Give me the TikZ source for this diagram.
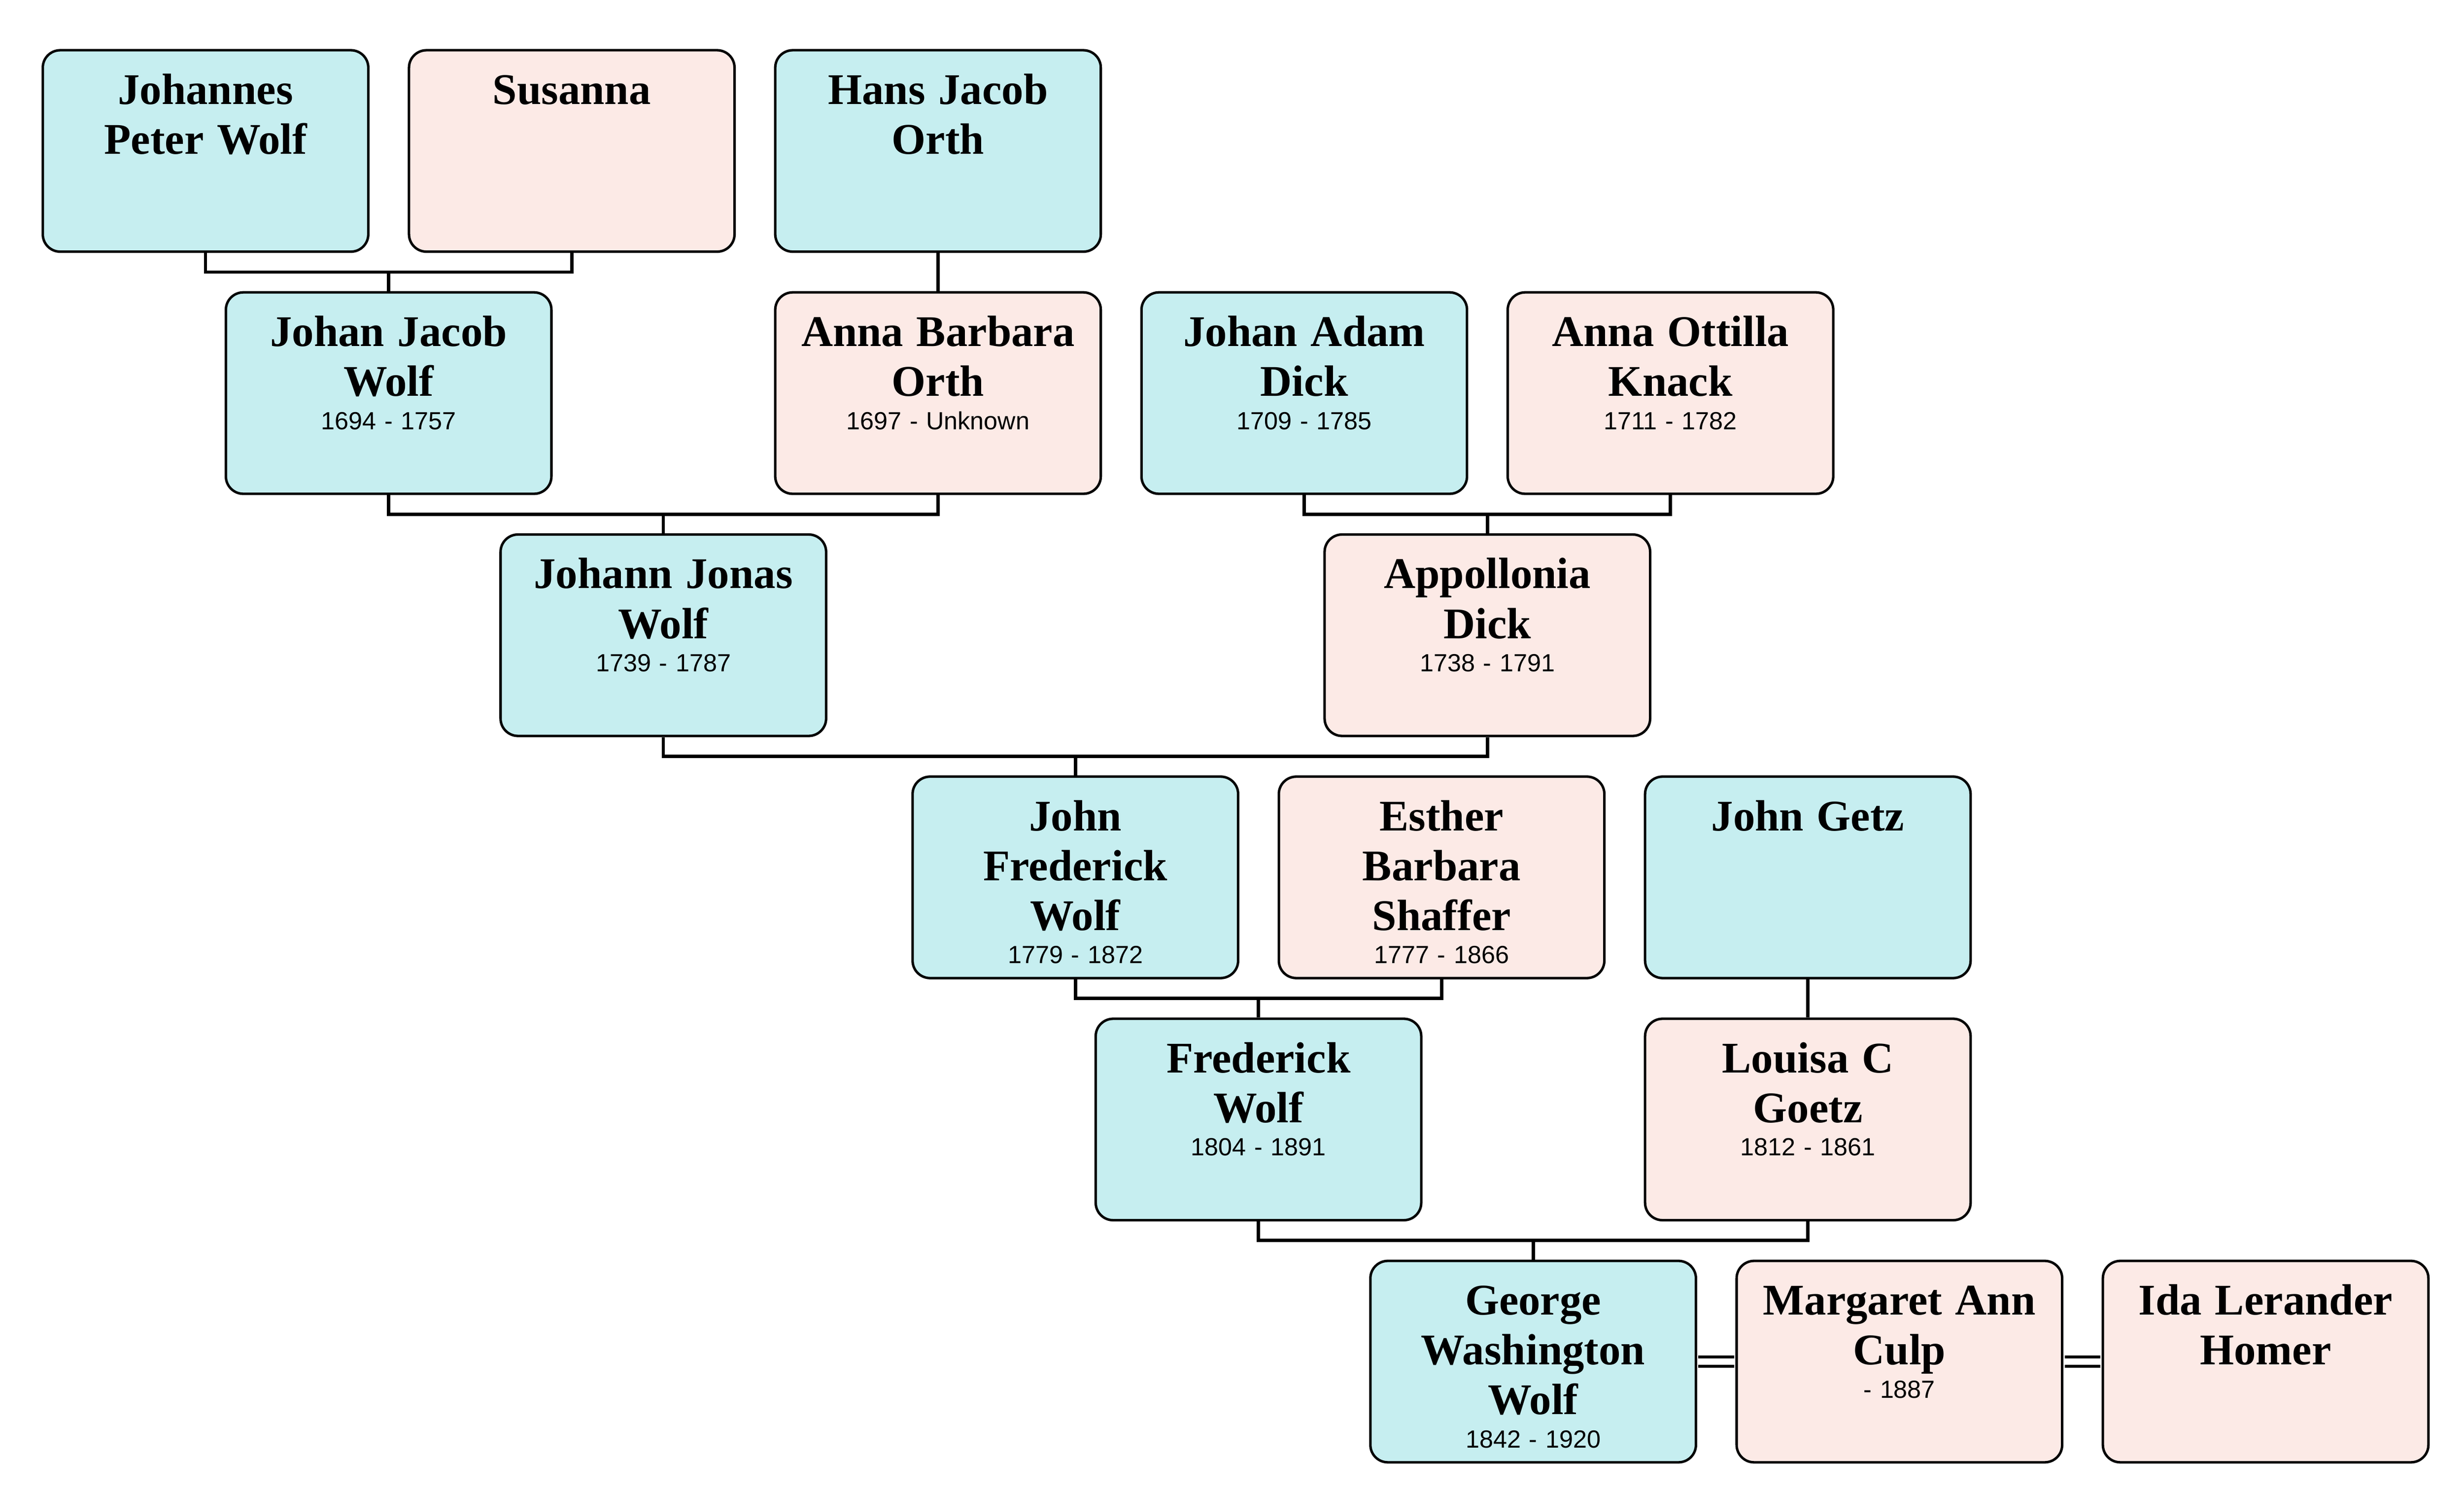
\documentclass[tikz,border=0pt]{standalone}
\usepackage{fontspec}
\setmainfont{Liberation Serif}
\setsansfont{Liberation Sans}
\definecolor{manfill}{HTML}{C6EEF0}
\definecolor{womanfill}{HTML}{FCEAE6}
\newcommand{\pname}[1]{{\fontsize{30}{34.14}\selectfont\bfseries\spaceskip=0.3em\relax #1\par}}
\newcommand{\pdate}[1]{{\fontsize{17}{22.76}\selectfont\sffamily\spaceskip=0.33em\relax #1\par}}
\tikzset{
  person/.style={draw, line width=0.06cm, rounded corners=0.42cm, minimum width=7.84cm, minimum height=4.85cm, inner sep=0},
  man/.style={person, fill=manfill},
  woman/.style={person, fill=womanfill},
  ptext/.style={anchor=base, yshift=-1.33cm, text width=7.9cm, align=center, inner sep=0},
  link/.style={line width=0.08cm},
  wed/.style={line width=0.07cm, double, double distance=0.16cm, shorten <=0.03cm, shorten >=0.03cm},
}
\begin{document}
\begin{tikzpicture}[x=8.82cm,y=-5.83cm]
\useasboundingbox (-4.95cm,3.635cm) rectangle (54.39cm,-32.255cm);
%boxes
\node[man] (jpw) at (0,0){};
\node[woman] (sus) at (1,0){};
\node[man] (hjo) at (2,0){};
\node[man] (jjw) at (0.5,1){};
\node[woman] (abo) at (2,1){};
\node[man] (jad) at (3,1){};
\node[woman] (aok) at (4,1){};
\node[man] (jjo) at (1.25,2){};
\node[woman] (apd) at (3.5,2){};
\node[man] (jfw) at (2.375,3){};
\node[woman] (ebs) at (3.375,3){};
\node[man] (jge) at (4.375,3){};
\node[man] (frw) at (2.875,4){};
\node[woman] (lcg) at (4.375,4){};
\node[man] (gww) at (3.625,5){};
\node[woman] (mac) at (4.625,5){};
\node[woman] (ilh) at (5.625,5){};
%names
\node[ptext] (jpw-t) at (jpw.north){\pname{Johannes\\Peter Wolf}};
\node[ptext] (sus-t) at (sus.north){\pname{Susanna}};
\node[ptext] (hjo-t) at (hjo.north){\pname{Hans Jacob\\Orth}};
\node[ptext] (jjw-t) at (jjw.north){\pname{Johan Jacob\\Wolf}\pdate{1694 - 1757}};
\node[ptext] (abo-t) at (abo.north){\pname{Anna Barbara\\Orth}\pdate{1697 - Unknown}};
\node[ptext] (jad-t) at (jad.north){\pname{Johan Adam\\Dick}\pdate{1709 - 1785}};
\node[ptext] (aok-t) at (aok.north){\pname{Anna Ottilla\\Knack}\pdate{1711 - 1782}};
\node[ptext] (jjo-t) at (jjo.north){\pname{Johann Jonas\\Wolf}\pdate{1739 - 1787}};
\node[ptext] (apd-t) at (apd.north){\pname{Appollonia\\Dick}\pdate{1738 - 1791}};
\node[ptext] (jfw-t) at (jfw.north){\pname{John\\Frederick\\Wolf}\pdate{1779 - 1872}};
\node[ptext] (ebs-t) at (ebs.north){\pname{Esther\\Barbara\\Shaffer}\pdate{1777 - 1866}};
\node[ptext] (jge-t) at (jge.north){\pname{John Getz}};
\node[ptext] (frw-t) at (frw.north){\pname{Frederick\\Wolf}\pdate{1804 - 1891}};
\node[ptext] (lcg-t) at (lcg.north){\pname{Louisa C\\Goetz}\pdate{1812 - 1861}};
\node[ptext] (gww-t) at (gww.north){\pname{George\\Washington\\Wolf}\pdate{1842 - 1920}};
\node[ptext] (mac-t) at (mac.north){\pname{Margaret Ann\\Culp}\pdate{- 1887}};
\node[ptext] (ilh-t) at (ilh.north){\pname{Ida Lerander\\Homer}};
%parents
\draw[link] (jpw.south) -- ++(0,-0.46cm) -| (sus.south);
\draw[link] (jjw.north) -- ++(0,0.46cm);
\draw[link] (hjo.south) -- (abo.north);
\draw[link] (jjw.south) -- ++(0,-0.46cm) -| (abo.south);
\draw[link] (jjo.north) -- ++(0,0.46cm);
\draw[link] (jad.south) -- ++(0,-0.46cm) -| (aok.south);
\draw[link] (apd.north) -- ++(0,0.46cm);
\draw[link] (jjo.south) -- ++(0,-0.46cm) -| (apd.south);
\draw[link] (jfw.north) -- ++(0,0.46cm);
\draw[link] (jfw.south) -- ++(0,-0.46cm) -| (ebs.south);
\draw[link] (frw.north) -- ++(0,0.46cm);
\draw[link] (jge.south) -- (lcg.north);
\draw[link] (frw.south) -- ++(0,-0.46cm) -| (lcg.south);
\draw[link] (gww.north) -- ++(0,0.46cm);
%marriages
\draw[wed] (gww.east) -- (mac.west);
\draw[wed] (mac.east) -- (ilh.west);
\end{tikzpicture}
\end{document}
